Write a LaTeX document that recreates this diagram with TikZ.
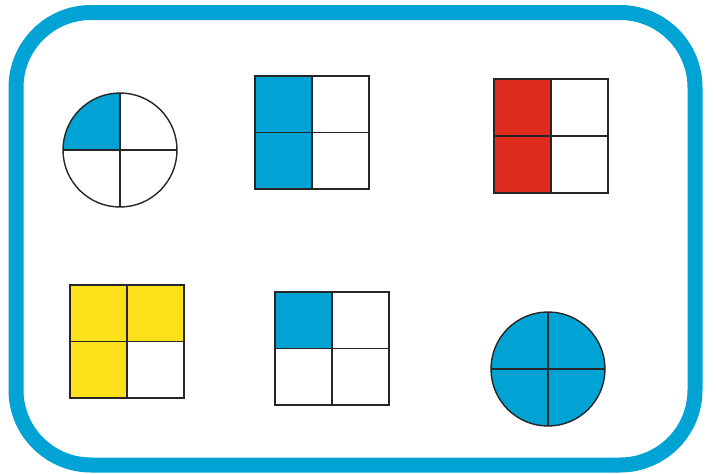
\documentclass[tikz,border=0pt]{standalone}
\definecolor{fblue}{RGB}{0,163,212}
\definecolor{fred}{RGB}{221,44,30}
\definecolor{fyellow}{RGB}{252,224,26}
\tikzset{
  part/.style={draw=black!85, line width=1.4pt},
  frame/.style={draw=fblue, line width=15pt, rounded corners=75pt}
}
\begin{document}
\begin{tikzpicture}[x=1pt,y=-1pt]
\useasboundingbox (0,0) rectangle (716,474);
\fill[white] (0,0) rectangle (716,474);
\draw[frame] (16,12.5) rectangle (695,465);
% circle 1
\coordinate (c1) at (120,150);
\fill[fblue] (c1) -- (63,150) arc[start angle=180,end angle=270,radius=57] -- cycle;
\draw[part] (c1) circle[radius=57];
\draw[part] (63,150) -- (177,150);
\draw[part] (120,93) -- (120,207);
% square 1 (left column blue)
\fill[fblue] (255,76) rectangle (312,189);
\draw[part] (255,76) rectangle (369,189);
\draw[part] (312,76) -- (312,189);
\draw[part] (255,132.5) -- (369,132.5);
% square 2 (left column red)
\fill[fred] (494,79) rectangle (551,193);
\draw[part] (494,79) rectangle (608,193);
\draw[part] (551,79) -- (551,193);
\draw[part] (494,136) -- (608,136);
% square 3 (three yellow)
\fill[fyellow] (70,285) rectangle (184,341.5);
\fill[fyellow] (70,341.5) rectangle (127,398);
\draw[part] (70,285) rectangle (184,398);
\draw[part] (127,285) -- (127,398);
\draw[part] (70,341.5) -- (184,341.5);
% square 4 (one blue)
\fill[fblue] (275,292) rectangle (332,348.5);
\draw[part] (275,292) rectangle (389,405);
\draw[part] (332,292) -- (332,405);
\draw[part] (275,348.5) -- (389,348.5);
% circle 2 (all blue)
\coordinate (c2) at (548,369);
\draw[part, fill=fblue] (c2) circle[radius=57];
\draw[part] (491,369) -- (605,369);
\draw[part] (548,312) -- (548,426);
\end{tikzpicture}
\end{document}
